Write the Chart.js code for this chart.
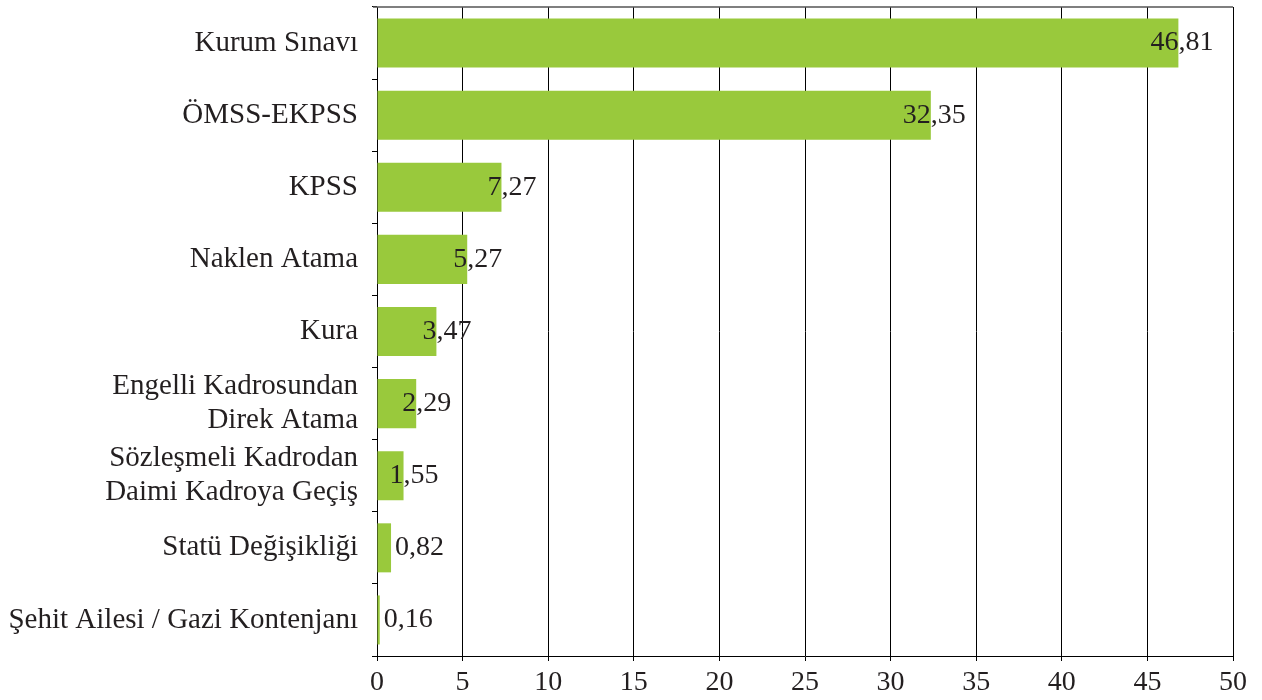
<!DOCTYPE html>
<html>
<head>
<meta charset="utf-8">
<script src="https://cdn.jsdelivr.net/npm/chart.js@4"></script>
<style>
  html, body { margin: 0; padding: 0; background: #fff; }
  #wrap { width: 1262px; height: 700px; }
</style>
</head>
<body>
<div id="wrap"><canvas id="chart" width="1262" height="700"></canvas></div>
<script>
// categories (top to bottom) and their shares
const categories = [
  'Kurum Sınavı',
  'ÖMSS-EKPSS',
  'KPSS',
  'Naklen Atama',
  'Kura',
  ['Engelli Kadrosundan', 'Direk Atama'],
  ['Sözleşmeli Kadrodan', 'Daimi Kadroya Geçiş'],
  'Statü Değişikliği',
  'Şehit Ailesi / Gazi Kontenjanı'
];
const values = [46.81, 32.35, 7.27, 5.27, 3.47, 2.29, 1.55, 0.82, 0.16];
const xTicks = [0, 5, 10, 15, 20, 25, 30, 35, 40, 45, 50];

const FONT = '"Liberation Serif", "DejaVu Serif", serif';
const INK = '#231f20';

// value labels: comma sits on the bar end, small values start just past it
const valueLabels = {
  id: 'valueLabels',
  afterDatasetsDraw(chart) {
    const ctx = chart.ctx;
    const area = chart.chartArea;
    ctx.save();
    // grey frame line along the top of the plot
    ctx.strokeStyle = '#555';
    ctx.lineWidth = 1.5;
    ctx.beginPath();
    ctx.moveTo(area.left - 4, area.top);
    ctx.lineTo(area.right, area.top);
    ctx.stroke();

    ctx.font = '28px ' + FONT;
    ctx.fillStyle = INK;
    ctx.textBaseline = 'middle';
    ctx.textAlign = 'left';
    chart.getDatasetMeta(0).data.forEach((bar, i) => {
      const txt = values[i].toFixed(2).replace('.', ',');
      const intPart = txt.split(',')[0];
      const x = values[i] >= 1 ? bar.x - ctx.measureText(intPart).width : bar.x + 4;
      ctx.fillText(txt, x, bar.y);
    });
    ctx.restore();
  }
};

new Chart(document.getElementById('chart'), {
  type: 'bar',
  data: {
    labels: categories,
    datasets: [{
      data: values,
      backgroundColor: '#99c93c',
      borderWidth: 0,
      categoryPercentage: 1,
      barPercentage: 0.68
    }]
  },
  options: {
    indexAxis: 'y',
    responsive: false,
    animation: false,
    layout: { padding: { top: 7, right: 29, bottom: 0, left: 0 } },
    plugins: { legend: { display: false }, tooltip: { enabled: false } },
    scales: {
      x: {
        min: 0,
        max: 50,
        afterBuildTicks: (axis) => { axis.ticks = xTicks.map((v) => ({ value: v })); },
        grid: { color: '#000', lineWidth: 1, tickLength: 5, tickColor: '#000' },
        border: { color: '#000', width: 1 },
        ticks: { color: INK, font: { family: FONT, size: 28 }, padding: 5, maxRotation: 0 },
        afterFit: (axis) => { axis.height = 44; }
      },
      y: {
        grid: { drawOnChartArea: false, offset: true, tickLength: 5, color: '#000' },
        border: { color: '#000', width: 1 },
        ticks: { color: INK, font: { family: FONT, size: 29, lineHeight: 1.18 }, padding: 14, autoSkip: false },
        afterFit: (axis) => {
          axis.width = 377;
          axis.paddingTop = 0;
          axis.paddingBottom = 0;
        }
      }
    }
  },
  plugins: [valueLabels]
});
</script>
</body>
</html>
